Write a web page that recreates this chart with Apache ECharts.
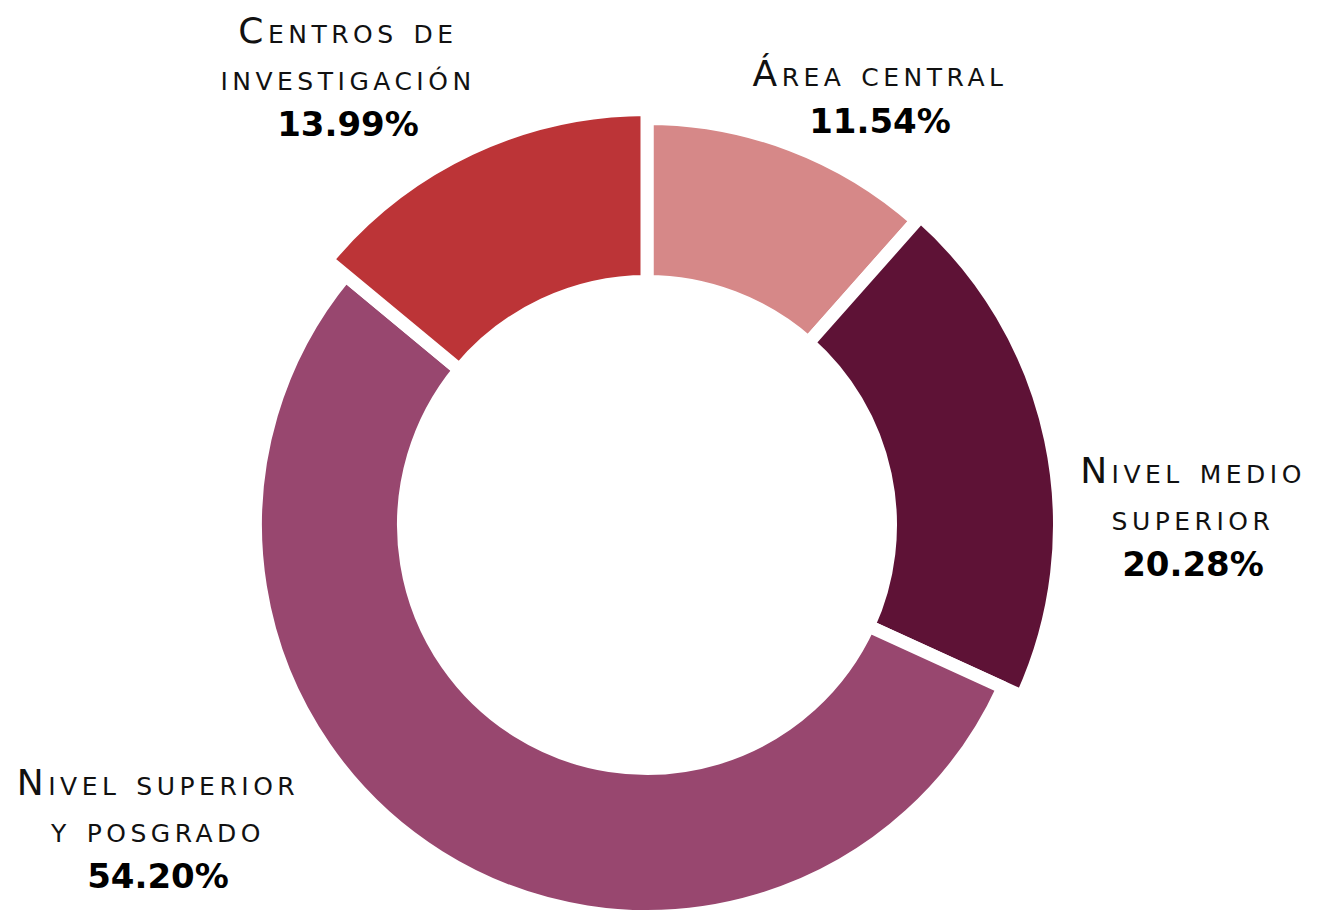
<!DOCTYPE html>
<html>
<head>
<meta charset="utf-8">
<script src="https://cdn.jsdelivr.net/npm/echarts@6/dist/echarts.min.js"></script>
<style>
  html, body { margin: 0; padding: 0; background: #fff; }
  #main { width: 1317px; height: 915px; }
  #main text { font-variant: small-caps !important; letter-spacing: 4.5px; }
  #main text[style*="bold"] { letter-spacing: 0; }
</style>
</head>
<body>
<div id="main"></div>
<script>
  // data
  var names = ['Área central', 'Nivel medio\nsuperior', 'Nivel superior\ny posgrado', 'Centros de\ninvestigación'];
  var values = [11.54, 20.28, 54.20, 13.99];

  // look
  var colors = ['#D68888', '#5E1236', '#98476F', '#BC3437'];
  var outerR = [400, 406, 385, 409];
  var labelPos = [[880, 97], [1193, 517], [158, 829], [348, 77]];
  var gap = 13;

  var chart = echarts.init(document.getElementById('main'), null, { renderer: 'svg' });

  // one series per slice so every slice can keep its own outer radius
  var series = values.map(function (v, i) {
    return {
      type: 'pie',
      center: [647, 525],
      radius: [250 - gap / 2, outerR[i] + gap / 2],
      startAngle: 90,
      silent: true,
      animation: false,
      data: values.map(function (val, j) {
        return {
          name: names[j],
          value: val,
          itemStyle: j === i
            ? { color: colors[j], borderColor: '#fff', borderWidth: gap }
            : { color: 'rgba(0,0,0,0)', borderWidth: 0 },
          label: { show: j === i }
        };
      }),
      label: {
        overflow: 'none',
        edgeDistance: 0,
        formatter: function (p) {
          return '{n|' + p.name + '}\n{p|' + p.value.toFixed(2) + '%}';
        },
        rich: {
          n: { fontFamily: 'DejaVu Sans', fontSize: 36, color: '#111', lineHeight: 47 },
          p: { fontFamily: 'DejaVu Sans', fontWeight: 'bold', fontSize: 34, color: '#000', lineHeight: 47 }
        }
      },
      labelLine: { show: false },
      labelLayout: function (p) {
        return { x: labelPos[p.dataIndex][0], y: labelPos[p.dataIndex][1], align: 'center', verticalAlign: 'middle' };
      }
    };
  });

  chart.setOption({
    backgroundColor: '#fff',
    series: series
  });
</script>
</body>
</html>
